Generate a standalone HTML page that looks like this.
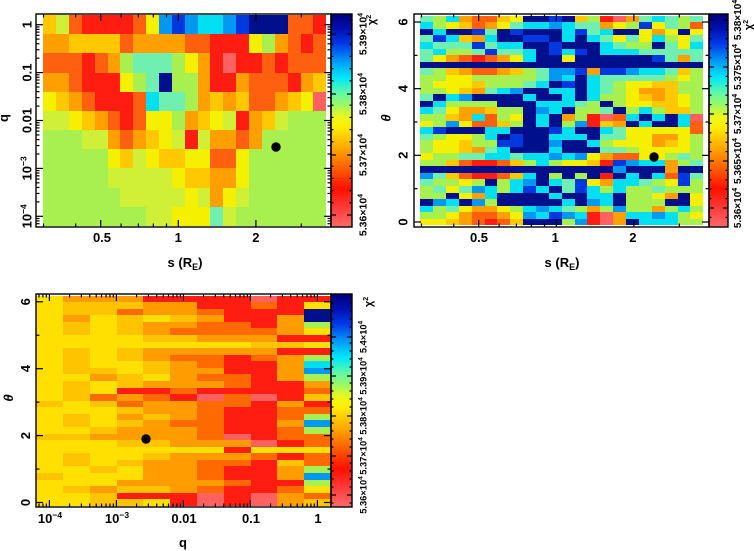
<!DOCTYPE html>
<html><head><meta charset="utf-8">
<style>
html,body{margin:0;padding:0;background:#fff;}
svg{display:block;}
text{font-family:"Liberation Sans",sans-serif;font-weight:bold;fill:#000;}
</style></head><body>
<svg id="s" width="754" height="551" viewBox="0 0 754 551" xmlns="http://www.w3.org/2000/svg">
<defs>
<linearGradient id="cb" x1="0" y1="1" x2="0" y2="0">
<stop offset="0" stop-color="#ff6a6a"/>
<stop offset="0.08" stop-color="#ff4040"/>
<stop offset="0.18" stop-color="#ff1000"/>
<stop offset="0.27" stop-color="#ff5a00"/>
<stop offset="0.36" stop-color="#ffa000"/>
<stop offset="0.47" stop-color="#ffee00"/>
<stop offset="0.52" stop-color="#e8f820"/>
<stop offset="0.57" stop-color="#a0f860"/>
<stop offset="0.63" stop-color="#60f8a8"/>
<stop offset="0.70" stop-color="#00e8f8"/>
<stop offset="0.78" stop-color="#0098f8"/>
<stop offset="0.86" stop-color="#0038e8"/>
<stop offset="0.93" stop-color="#0010b0"/>
<stop offset="1" stop-color="#000080"/>
</linearGradient>
</defs>
<g id="cells" shape-rendering="crispEdges"></g>
<circle cx="276" cy="147" r="4.7" fill="#000"/>
<circle cx="654" cy="157" r="4.7" fill="#000"/>
<circle cx="146" cy="439" r="4.7" fill="#000"/>
<rect x="331" y="14" width="21" height="213" fill="url(#cb)"/>
<rect x="709" y="14" width="19" height="213" fill="url(#cb)"/>
<rect x="331" y="294" width="21" height="213" fill="url(#cb)"/>
<g fill="none" stroke="#000" stroke-width="1.4">
<rect x="36" y="14" width="295" height="213"/>
<rect x="331" y="14" width="21" height="213"/>
<rect x="414" y="14" width="295" height="213"/>
<rect x="709" y="14" width="19" height="213"/>
<rect x="36" y="294" width="295" height="213"/>
<rect x="331" y="294" width="21" height="213"/>
</g>
<g id="ticks" stroke="#000" stroke-width="1.2"></g>

<!-- Panel 1 labels -->
<g font-size="13">
<text transform="translate(31.5,24.7) rotate(-90)" text-anchor="middle">1</text>
<text transform="translate(31.5,72.6) rotate(-90)" text-anchor="middle">0.1</text>
<text transform="translate(31.5,120.5) rotate(-90)" text-anchor="middle">0.01</text>
<text transform="translate(31.5,168.4) rotate(-90)" text-anchor="middle">10<tspan dy="-5" font-size="8.5">−3</tspan></text>
<text transform="translate(31.5,216.3) rotate(-90)" text-anchor="middle">10<tspan dy="-5" font-size="8.5">−4</tspan></text>
<text x="102" y="242" text-anchor="middle">0.5</text>
<text x="178.3" y="242" text-anchor="middle">1</text>
<text x="255.9" y="242" text-anchor="middle">2</text>
</g>
<text x="185" y="267" font-size="13" text-anchor="middle">s (R<tspan font-size="9" dy="3">E</tspan><tspan dy="-3">)</tspan></text>
<text transform="translate(8,118) rotate(-90)" text-anchor="middle" font-size="13">q</text>
<g font-size="10.5">
<text transform="translate(366.5,215) rotate(-90)" text-anchor="middle">5.36×10<tspan dy="-4" font-size="7">4</tspan></text>
<text transform="translate(366.5,155) rotate(-90)" text-anchor="middle">5.37×10<tspan dy="-4" font-size="7">4</tspan></text>
<text transform="translate(366.5,94) rotate(-90)" text-anchor="middle">5.38×10<tspan dy="-4" font-size="7">4</tspan></text>
<text transform="translate(366.5,34) rotate(-90)" text-anchor="middle">5.39×10<tspan dy="-4" font-size="7">4</tspan></text>
<text transform="translate(375,20) rotate(-90)" text-anchor="middle" font-size="11">χ<tspan dy="-4" font-size="7">2</tspan></text>
</g>

<!-- Panel 2 labels -->
<g font-size="13">
<text transform="translate(407.5,222) rotate(-90)" text-anchor="middle">0</text>
<text transform="translate(407.5,155.3) rotate(-90)" text-anchor="middle">2</text>
<text transform="translate(407.5,88.7) rotate(-90)" text-anchor="middle">4</text>
<text transform="translate(407.5,22) rotate(-90)" text-anchor="middle">6</text>
<text x="479" y="242" text-anchor="middle">0.5</text>
<text x="555.3" y="242" text-anchor="middle">1</text>
<text x="632.9" y="242" text-anchor="middle">2</text>
</g>
<text x="562" y="267" font-size="13" text-anchor="middle">s (R<tspan font-size="9" dy="3">E</tspan><tspan dy="-3">)</tspan></text>
<text transform="translate(390.5,118) rotate(-90)" text-anchor="middle" font-size="13" font-style="italic">θ</text>
<g font-size="10">
<text transform="translate(741,208) rotate(-90)" text-anchor="middle">5.36×10<tspan dy="-4" font-size="7">4</tspan></text>
<text transform="translate(741,161) rotate(-90)" text-anchor="middle">5.365×10<tspan dy="-4" font-size="7">4</tspan></text>
<text transform="translate(741,114) rotate(-90)" text-anchor="middle">5.37×10<tspan dy="-4" font-size="7">4</tspan></text>
<text transform="translate(741,67) rotate(-90)" text-anchor="middle">5.375×10<tspan dy="-4" font-size="7">4</tspan></text>
<text transform="translate(741,20) rotate(-90)" text-anchor="middle">5.38×10<tspan dy="-4" font-size="7">4</tspan></text>
<text transform="translate(752,25) rotate(-90)" text-anchor="middle" font-size="11">χ<tspan dy="-4" font-size="7">2</tspan></text>
</g>

<!-- Panel 3 labels -->
<g font-size="13">
<text transform="translate(30,502.5) rotate(-90)" text-anchor="middle">0</text>
<text transform="translate(30,435.6) rotate(-90)" text-anchor="middle">2</text>
<text transform="translate(30,368.7) rotate(-90)" text-anchor="middle">4</text>
<text transform="translate(30,301.8) rotate(-90)" text-anchor="middle">6</text>
<text x="50" y="523" text-anchor="middle">10<tspan dy="-5" font-size="8.5">−4</tspan></text>
<text x="117" y="523" text-anchor="middle">10<tspan dy="-5" font-size="8.5">−3</tspan></text>
<text x="184" y="523" text-anchor="middle">0.01</text>
<text x="251" y="523" text-anchor="middle">0.1</text>
<text x="318" y="523" text-anchor="middle">1</text>
</g>
<text x="183" y="547" font-size="13" text-anchor="middle">q</text>
<text transform="translate(13,398) rotate(-90)" text-anchor="middle" font-size="13" font-style="italic">θ</text>
<g font-size="9.3">
<text transform="translate(366.5,495) rotate(-90)" text-anchor="middle">5.36×10<tspan dy="-4" font-size="6.5">4</tspan></text>
<text transform="translate(366.5,456) rotate(-90)" text-anchor="middle">5.37×10<tspan dy="-4" font-size="6.5">4</tspan></text>
<text transform="translate(366.5,416) rotate(-90)" text-anchor="middle">5.38×10<tspan dy="-4" font-size="6.5">4</tspan></text>
<text transform="translate(366.5,376) rotate(-90)" text-anchor="middle">5.39×10<tspan dy="-4" font-size="6.5">4</tspan></text>
<text transform="translate(366.5,337) rotate(-90)" text-anchor="middle">5.4×10<tspan dy="-4" font-size="6.5">4</tspan></text>
<text transform="translate(372,302) rotate(-90)" text-anchor="middle" font-size="11">χ<tspan dy="-4" font-size="7">2</tspan></text>
</g>
</svg>
<script>
(function(){
var NS='http://www.w3.org/2000/svg';
var PAL={N:'#00108c',B:'#0038e0',A:'#0098f0',C:'#00e0f0',G:'#70f0b0',L:'#a8f050',Q:'#d0f038',Y:'#f4f000',y:'#ffc800',O:'#ffa000',o:'#ff6010',R:'#ff1c10',P:'#ff6060'};
var P3={Y:'#ffe000',y:'#ffc400',O:'#ff9c00',o:'#ff6a00'};
var g=document.getElementById('cells');
function rect(x,y,w,h,f){var r=document.createElementNS(NS,'rect');r.setAttribute('x',x);r.setAttribute('y',y);r.setAttribute('width',w);r.setAttribute('height',h);r.setAttribute('fill',f);g.appendChild(r);}
function heat(rows,x0,cw,y0,rh,pal){
 for(var i=0;i<rows.length;i++){var row=rows[i];var ya=Math.round(y0+i*rh),yb=Math.round(y0+(i+1)*rh);
  for(var j=0;j<row.length;j++){var xa=Math.round(x0+j*cw),xb=Math.round(x0+(j+1)*cw);var c=row.charAt(j);
   rect(xa,ya,xb-xa,yb-ya,(pal&&pal[c])||PAL[c]||'#fff');}}
}
var p1=["yQoRRRRoYABACCABNNNooR","OOyyyyoOOOOooRRRYLOoRo","oooRoOLGGGLYORPRRoRooo","OOoRRRYLGNLLORROoooROy","YyOoRRRoCGGLOyOyooOyYP","QQYyOoRoYYLOyYQROyQLLL","LLLQQOoOyYQRQOOoOLLLLL","LLLLLYyQYyyYYooYLLLLLL","LLLLLQQQQQYyyOOYLLLLLL","LLLLLLQQQQQYQOYQLLLLLL","LLLLLLLLQQYYYGQLLLLLLL"];
heat(p1,43.3,12.86,15.1,19.17,null);
var p2=["GLCOooyYNNBNyLRPOGCGLG","CLYyoOYGCCACGGOYLBYGLo","NCNNBGNBNNNCBGCNNYOYNY","GBCyOCNNBBNCNCGYGYCLYG","CGGGBGCCNNBNNNCGLLNGYC","GCLLGBGGCNBCBNCCCGGGGG","GYOoRoOYCNNYNNNNNNBGOG","NNNNNNNNNNNNNNNNNNNNNN",
"GLyOooOyLGAABOBBACCGyL","LLYYLLLLLGACNCGGGGGLYL","LYYYyLLLGCNBNCGLYYyyLL","LLYyOGCANNCCNCGLYOOyLL","GNCANNNNCNNCNCLLYyOyYL","NCLLLLNNNCCCGLNLYYyyYL","CGYOOyLLNACNLLGNLCLyyL","LLyOCoLYNCNOLRPoCNCNCP","YLAYooyLNCNLARyONCNNCo",
"CBNNNCCNNNBCNNCGYYYYYo","GLYYLCNBNNCCCNGGYYOOYL","LYYyLLBBNNANNCLYYYOyYL","LYYyOGCNNNCNNNGGLYYYYL","YLLGGCCGCCACAYOooYYLGL",
"LLyoRRoyLCLYYyRBACCOLG","NNNNNNNNNNNNNNNANNNONN","AGyoRRoyCNLNLNRNCNCoBG","GLLYLNLCANCGBYOCCGLYBL","LGYGACLCBCNGBCLCLLGLLL","LLNYOCNNNNCNNCCNLLYONY","NACNALNNNNNCNACNLLLNNY","CLGYOOYLCACGLOLALLOLCL","LLYOooOYACBACRPOCCACLY","YYyOoRoyNNNLARPONCCCLL"];
heat(p2,420.3,12.86,15.8,6.545,null);
var p3a=["YOOORRRRPR","YyyyOORRoR","YyyoOOoRRR","YOYyYyORRO","YyYyOOooRO","YyYyOooooO","YYYYyyOOOR","YYYYYYYYyy","YyYyOOOOOR","YyYyOooRoO","YyYYyOoRRO","YyyYyOORRO","YYOyYOooRO","YyYyOOOoRR","YyYRRoRRRR","YyoOoRPoPR","yYyoOOooRO","YYYyOOoRRo","YyYOyOoRRo","YyYyOooRRO","YYyOOOoRRo","yyOOOOoPRo","YYYyyOOOPR","YYYYYYYRYY","YyYYyOOOoR","YyYyOOooRy","YYyYOOoRRO","yYYYOOoRRO","YYYOOOOoRR","YyOyyOoRRo","YYyRRRPRPO","YYyyYRPRPO"];
var c10="RYNNLYRYRLCALOoyRoLALooYooLALYoy";
var p3=[];for(var k=0;k<p3a.length;k++)p3.push(p3a[k]+c10.charAt(k));
heat(p3,36.2,26.8,295.6,6.568,P3);

var T=document.getElementById('ticks');
function ln(x1,y1,x2,y2){var l=document.createElementNS(NS,'line');l.setAttribute('x1',x1);l.setAttribute('y1',y1);l.setAttribute('x2',x2);l.setAttribute('y2',y2);T.appendChild(l);}
function L10(v){return Math.log(v)/Math.LN10;}
function xt(x,yb,yt,len){ln(x,yb,x,yb-len);ln(x,yt,x,yt+len);}
function yt(y,xl,xr,len){ln(xl,y,xl+len,y);ln(xr,y,xr-len,y);}
var sMaj=[0.5,1,2],sMin=[0.3,0.4,0.6,0.7,0.8,0.9,3];
[0,378].forEach(function(off){
 sMaj.forEach(function(s){var x=178.3+257.8*L10(s)+off;xt(x,227,14,7);});
 sMin.forEach(function(s){var x=178.3+257.8*L10(s)+off;if(x>37+off&&x<330+off)xt(x,227,14,3.5);});
});
for(var d=0;d>=-4;d--){yt(24.7-47.9*d,36,331,7);}
for(var d=-5;d<=-1;d++){for(var m=2;m<=9;m++){var y=24.7-47.9*(d+L10(m));if(y>15&&y<226)yt(y,36,331,3.5);}}
for(var t=0;t<=6;t++){yt(222-33.33*t,414,709,(t%2==0)?7:3.5);}
for(var d=-4;d<=0;d++){xt(317.4+67*d,507,294,7);}
for(var d=-5;d<=0;d++){for(var m=2;m<=9;m++){var x=317.4+67*(d+L10(m));if(x>37&&x<330)xt(x,507,294,3.5);}}
for(var t=0;t<=6;t++){yt(502.5-33.45*t,36,331,(t%2==0)?7:3.5);}
function cbt(xl,xr,maj,step,top,bot){
 maj.forEach(function(y){ln(xl,y,xl+5,y);ln(xr,y,xr-5,y);});
 var y0=maj[0];for(var k=-10;k<60;k++){var y=y0-k*step/5;if(y>top&&y<bot&&k%5!=0){ln(xl,y,xl+2.5,y);ln(xr,y,xr-2.5,y);}}
}
cbt(331,352,[215,155,94,34],61,14.5,226.5);
cbt(709,728,[208,161,114,67,20],47,14.5,226.5);
cbt(331,352,[495,456,416,376,337],40,294.5,506.5);
})();
</script>
</body></html>
